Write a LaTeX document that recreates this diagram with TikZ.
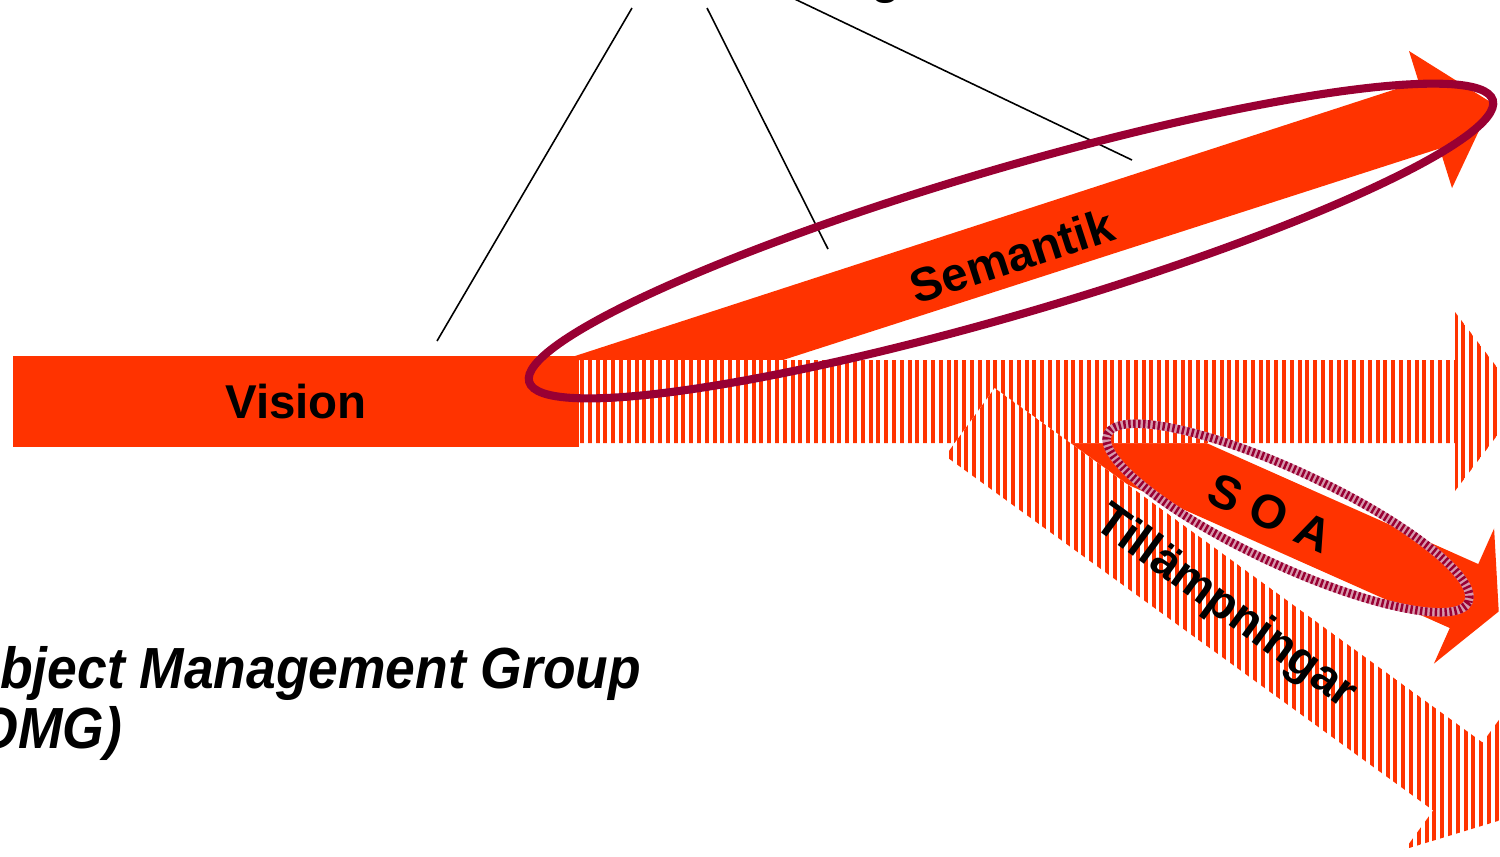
\documentclass[tikz,border=0pt]{standalone}
\usepackage{fontspec}
\setmainfont{Liberation Sans}
\newfontfamily\omgfont[FakeStretch=0.92]{Liberation Sans}
\definecolor{arroworange}{HTML}{FF3300}
\definecolor{ringmaroon}{HTML}{990033}
\tikzset{
  lbl/.style={font=\fontsize{13.5}{16}\selectfont\bfseries, inner sep=0pt},
  omg/.style={font=\omgfont\fontsize{16.5}{18}\selectfont\bfseries\itshape, inner sep=0pt, anchor=base west},
  vbar/.style={lbl, fill=arroworange, minimum width=5.66cm, minimum height=0.91cm},
  pointer/.style={line width=0.45pt, black},
  solidarrow/.style={fill=arroworange},
  stripe/.style={fill=arroworange},
  semring/.style={ringmaroon, line width=2.3pt},
  soaring/.style={line width=2.4pt}
}

\begin{document}
\begin{tikzpicture}[x=0.01cm, y=-0.01cm]
\useasboundingbox (0,0) rectangle (1500,856);
\begin{scope}
\clip (0,0) rectangle (1500,856);

% label at the top and its pointers
\node[lbl, anchor=base] (topic) at (886,-7) {g};
\coordinate (p1) at (632,8);
\coordinate (p2) at (707,8);
\coordinate (p3) at (780,-8);
\coordinate (e1) at (437,341);
\coordinate (e2) at (828,249);
\coordinate (e3) at (1132,160);
\draw[pointer] (p1) -- (e1);
\draw[pointer] (p2) -- (e2);
\draw[pointer] (p3) -- (e3);

\node[vbar] (vision) at (296,401.5) {Vision};

% Semantik arrow
\fill[solidarrow] (575,356) -- (1418.6,81.7) -- (1409,51) -- (1492,103)
  -- (1452,188) -- (1439.6,148.5) -- (783,360) -- (575,360) -- cycle;

% SOA arrow
\begin{scope}[shift={(1464,596)}, rotate=-24]
\fill[solidarrow] (-460,-35) -- (0,-35) -- (0,-74) -- (38,0) -- (0,74)
  -- (0,35) -- (-460,35) -- cycle;
\end{scope}

% striped arrow, straight on
\coordinate (h1) at (580,360);
\coordinate (h2) at (1455,360);
\coordinate (h3) at (1455,312);
\coordinate (h4) at (1523,401.5);
\coordinate (h5) at (1455,491);
\coordinate (h6) at (1455,443);
\coordinate (h7) at (580,443);
\begin{scope}
\clip (h1) -- (h2) -- (h3) -- (h4) -- (h5) -- (h6) -- (h7) -- cycle;
\fill[white] (570,300) rectangle (1540,500);
\foreach \x in {580,587.8,...,1530} {
\fill[stripe] (\x,300) rectangle ++(4,200);
}
\end{scope}

% striped arrow, down to the right
\begin{scope}[shift={(970,422)}, rotate=-36]
\coordinate (d1) at (0,-42);
\coordinate (d2) at (603,-42);
\coordinate (d3) at (603,-90);
\coordinate (d4) at (671,0);
\coordinate (d5) at (603,90);
\coordinate (d6) at (603,42);
\coordinate (d7) at (0,42);
\end{scope}
\begin{scope}
\clip (d1) -- (d2) -- (d3) -- (d4) -- (d5) -- (d6) -- (d7) -- cycle;
\fill[white] (900,360) rectangle (1600,900);
\foreach \x in {941,948.8,...,1530} {
\fill[stripe] (\x,360) rectangle ++(4,540);
}
\end{scope}

\node[lbl, rotate=18] (semantik) at (1012,256) {Semantik};
\node[lbl, rotate=-24] (soa) at (1270,513) {S O A};
\node[lbl, rotate=-36] (tillamp) at (1225,608) {Tillämpningar};

% rings
\draw[semring, rotate around={16.3:(1011,241)}] (1011,241) ellipse [x radius=502, y radius=73];
\draw[soaring, ringmaroon!40!white, rotate around={-25:(1288,518)}] (1288,518) ellipse [x radius=199, y radius=47];
\draw[soaring, ringmaroon, dash pattern=on 0.7pt off 0.7pt, rotate around={-25:(1288,518)}] (1288,518) ellipse [x radius=199, y radius=47];

\node[omg] (omgname) at (-42,688) {Object Management Group};
\node[omg] (omgabbr) at (-42,748) {(OMG)};
\end{scope}
\end{tikzpicture}
\end{document}
